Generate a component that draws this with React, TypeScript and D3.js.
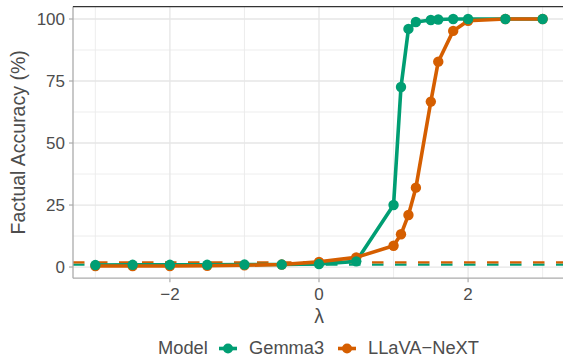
import { useEffect, useRef } from "react";
import * as d3 from "d3";

const lambdas = [-3, -2.5, -2, -1.5, -1, -0.5, 0, 0.5, 1, 1.1, 1.2, 1.3, 1.5, 1.6, 1.8, 2, 2.5, 3];
const gemmaAcc = [0.8, 0.9, 0.9, 0.9, 1.0, 1.0, 1.2, 2.3, 25, 72.6, 96, 98.8, 99.6, 99.8, 100, 100, 100, 100];
const llavaAcc = [0.4, 0.4, 0.4, 0.5, 0.7, 1.0, 2.1, 3.9, 8.6, 13.2, 21, 32, 66.7, 82.8, 95.2, 99.3, 100, 100];

const models = ["Gemma3", "LLaVA\u2212NeXT"];
const modelColors = ["#009E73", "#D55E00"];
const baselines = [1.0, 1.9];

const xTicks = [-2, 0, 2];
const xMinor = [-3, -1, 1, 3];
const yTicks = [0, 25, 50, 75, 100];
const yMinor = [12.5, 37.5, 62.5, 87.5];

const W = 563;
const H = 358;
const FONT = "'Liberation Sans', Arial, sans-serif";

export default function App() {
  const ref = useRef<SVGSVGElement>(null);

  useEffect(() => {
    if (!ref.current) return;
    const svg = d3.select(ref.current);
    svg.selectAll("*").remove();

    const x = d3.scaleLinear().domain([-3.3, 3.3]).range([73, 565]);
    const y = d3.scaleLinear().domain([-4.5, 105]).range([278.2, 6.6]);
    const [x0, x1] = x.range();
    const [y0, y1] = y.range();

    const series = models.map((name, i) => ({
      name,
      color: modelColors[i],
      values: lambdas.map((l, j) => ({ l, v: (i === 0 ? gemmaAcc : llavaAcc)[j] })),
    }));

    const grid = svg.append("g");
    grid.selectAll(".xmin").data(xMinor).join("line")
      .attr("x1", (d) => x(d)).attr("x2", (d) => x(d)).attr("y1", y1).attr("y2", y0)
      .attr("stroke", "#ebebeb").attr("stroke-width", 0.9);
    grid.selectAll(".ymin").data(yMinor).join("line")
      .attr("x1", x0).attr("x2", x1).attr("y1", (d) => y(d)).attr("y2", (d) => y(d))
      .attr("stroke", "#ebebeb").attr("stroke-width", 0.9);
    grid.selectAll(".xmaj").data(xTicks).join("line")
      .attr("x1", (d) => x(d)).attr("x2", (d) => x(d)).attr("y1", y1).attr("y2", y0)
      .attr("stroke", "#e6e6e6").attr("stroke-width", 1.3);
    grid.selectAll(".ymaj").data(yTicks).join("line")
      .attr("x1", x0).attr("x2", x1).attr("y1", (d) => y(d)).attr("y2", (d) => y(d))
      .attr("stroke", "#e6e6e6").attr("stroke-width", 1.3);

    // baselines
    svg.append("g").selectAll("line").data(baselines).join("line")
      .attr("x1", x0).attr("x2", x1)
      .attr("y1", (d) => y(d)).attr("y2", (d) => y(d))
      .attr("stroke", (_, i) => modelColors[i])
      .attr("stroke-width", 2.2)
      .attr("stroke-dasharray", "11.5 11.5");

    const line = d3.line<{ l: number; v: number }>().x((d) => x(d.l)).y((d) => y(d.v));
    svg.append("g").selectAll("path").data(series).join("path")
      .attr("d", (s) => line(s.values))
      .attr("fill", "none")
      .attr("stroke", (s) => s.color)
      .attr("stroke-width", 3.6)
      .attr("stroke-linejoin", "round");

    const pts = svg.append("g");
    [series[1], series[0]].forEach((s) => {
      pts.append("g").selectAll("circle").data(s.values).join("circle")
        .attr("cx", (d) => x(d.l)).attr("cy", (d) => y(d.v))
        .attr("r", 5.2).attr("fill", s.color);
    });

    // axes
    const axisColor = "#ababab";
    svg.append("line").attr("x1", x0).attr("x2", x0).attr("y1", y1).attr("y2", y0)
      .attr("stroke", axisColor).attr("stroke-width", 1.3);
    svg.append("line").attr("x1", x0).attr("x2", x1).attr("y1", y0).attr("y2", y0)
      .attr("stroke", axisColor).attr("stroke-width", 1.3);
    svg.append("line").attr("x1", x0).attr("x2", x1).attr("y1", y1).attr("y2", y1)
      .attr("stroke", "#333333").attr("stroke-width", 1.2);

    svg.append("g").selectAll("line").data(yTicks).join("line")
      .attr("x1", x0 - 4).attr("x2", x0).attr("y1", (d) => y(d)).attr("y2", (d) => y(d))
      .attr("stroke", axisColor).attr("stroke-width", 1.2);
    svg.append("g").selectAll("line").data(xTicks).join("line")
      .attr("x1", (d) => x(d)).attr("x2", (d) => x(d)).attr("y1", y0).attr("y2", y0 + 4)
      .attr("stroke", axisColor).attr("stroke-width", 1.2);

    const fmt = (d: number) => (d < 0 ? "\u2212" + Math.abs(d) : String(d));
    svg.append("g").selectAll("text").data(yTicks).join("text")
      .attr("x", x0 - 8).attr("y", (d) => y(d)).attr("dy", "0.36em")
      .attr("text-anchor", "end").attr("fill", "#4d4d4d")
      .style("font-family", FONT).style("font-size", "17px")
      .text((d) => String(d));
    svg.append("g").selectAll("text").data(xTicks).join("text")
      .attr("x", (d) => x(d)).attr("y", y0 + 21.5)
      .attr("text-anchor", "middle").attr("fill", "#4d4d4d")
      .style("font-family", FONT).style("font-size", "17px")
      .text(fmt);

    svg.append("text")
      .attr("x", x(0)).attr("y", 323)
      .attr("text-anchor", "middle").attr("fill", "#4d4d4d")
      .style("font-family", FONT).style("font-size", "19.5px")
      .text("\u03bb");
    svg.append("text")
      .attr("transform", `translate(25,${(y0 + y1) / 2}) rotate(-90)`)
      .attr("text-anchor", "middle").attr("fill", "#4d4d4d")
      .style("font-family", FONT).style("font-size", "19.5px")
      .text("Factual Accuracy (%)");

    // legend
    const legY = 348.5;
    const lg = svg.append("g").style("font-family", FONT).style("font-size", "18.3px");
    lg.append("text").attr("x", 158).attr("y", legY + 5.5).attr("fill", "#4d4d4d").text("Model");
    const keyX = [228, 347];
    models.forEach((m, i) => {
      const g = lg.append("g");
      g.append("line").attr("x1", keyX[i] - 9).attr("x2", keyX[i] + 9)
        .attr("y1", legY).attr("y2", legY)
        .attr("stroke", modelColors[i]).attr("stroke-width", 3.6);
      g.append("circle").attr("cx", keyX[i]).attr("cy", legY).attr("r", 5)
        .attr("fill", modelColors[i]);
      g.append("text").attr("x", keyX[i] + 21).attr("y", legY + 5.5)
        .attr("fill", "#4d4d4d").text(m);
    });
  }, []);

  return (
    <svg
      ref={ref}
      width={W}
      height={H}
      style={{ position: "absolute", left: 0, top: 0, background: "#fff" }}
    />
  );
}
